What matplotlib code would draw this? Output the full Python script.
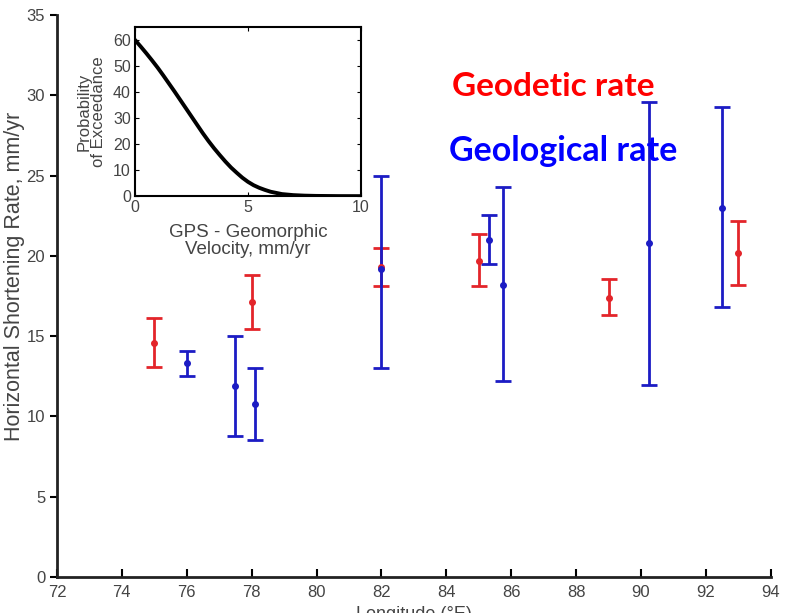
import matplotlib.pyplot as plt

plt.rcParams['font.family'] = ['Liberation Sans', 'DejaVu Sans']

# Geodetic (GPS) rates: longitude, rate, error bar ends
geo_lon = [75.0, 78.0, 82.0, 85.0, 89.0, 93.0]
geo_rate = [14.6, 17.1, 19.3, 19.7, 17.4, 20.2]
geo_low = [13.1, 15.45, 18.1, 18.1, 16.3, 18.2]
geo_high = [16.1, 18.8, 20.5, 21.35, 18.55, 22.2]

# Geological rates
gl_lon = [76.0, 77.5, 78.1, 82.0, 85.3, 85.75, 90.25, 92.5]
gl_rate = [13.3, 11.9, 10.8, 19.2, 21.0, 18.2, 20.8, 23.0]
gl_low = [12.55, 8.8, 8.55, 13.0, 19.5, 12.2, 11.95, 16.8]
gl_high = [14.1, 15.0, 13.0, 25.0, 22.55, 24.3, 29.6, 29.3]

# Inset: probability of exceedance vs GPS - geomorphic velocity
inset_x = [0, 0.25, 0.5, 0.75, 1, 1.25, 1.5, 1.75, 2, 2.25, 2.5, 2.75, 3, 3.25,
           3.5, 3.75, 4, 4.25, 4.5, 4.75, 5, 5.25, 5.5, 5.75, 6, 6.5, 7, 7.5,
           8, 9, 10]
inset_p = [60, 57.5, 54.9, 52.2, 49.4, 46.4, 43.3, 40.2, 37.0, 33.8, 30.6, 27.4,
           24.2, 21.2, 18.4, 15.8, 13.3, 11.0, 9.0, 7.1, 5.5, 4.2, 3.2, 2.4, 1.7,
           0.8, 0.4, 0.2, 0.1, 0.02, 0]

text_gray = '#444444'
red = '#e3252a'
blue = '#1c1cc4'

fig = plt.figure(figsize=(7.89, 6.13), dpi=100)
ax = fig.add_axes([0.0722, 0.0587, 0.9048, 0.9168])

ax.errorbar(geo_lon, geo_rate,
            yerr=[[r - l for r, l in zip(geo_rate, geo_low)],
                  [h - r for r, h in zip(geo_rate, geo_high)]],
            fmt='o', color=red, ms=4, lw=2, capsize=5.5, capthick=2)
ax.errorbar(gl_lon, gl_rate,
            yerr=[[r - l for r, l in zip(gl_rate, gl_low)],
                  [h - r for r, h in zip(gl_rate, gl_high)]],
            fmt='o', color=blue, ms=4, lw=2, capsize=5.5, capthick=2)

ax.set_xlim(72, 94)
ax.set_ylim(0, 35)
ax.set_xticks(range(72, 95, 2))
ax.set_yticks(range(0, 36, 5))
ax.spines['top'].set_visible(False)
ax.spines['right'].set_visible(False)
for s in ['left', 'bottom']:
    ax.spines[s].set_linewidth(2)
    ax.spines[s].set_color('#222222')
ax.tick_params(axis='x', direction='in', length=6, width=1.5, labelsize=12,
               labelcolor=text_gray, pad=6)
ax.tick_params(axis='y', direction='out', length=5, width=1.5, labelsize=12,
               labelcolor=text_gray)
ax.set_ylabel('Horizontal Shortening Rate, mm/yr', fontsize=15.5, color=text_gray)
ax.yaxis.set_label_coords(-0.045, 0.535)
ax.set_xlabel('Longitude (°E)', fontsize=13, color=text_gray, labelpad=4)

fig.text(452 / 789, 1 - 87 / 613, 'Geodetic rate', color='#ff0000', fontsize=24,
         fontweight='bold', family=['Lato', 'DejaVu Sans'], va='center', ha='left')
fig.text(449 / 789, 1 - 151 / 613, 'Geological rate', color='#0000ff', fontsize=24.5,
         fontweight='bold', family=['Lato', 'DejaVu Sans'], va='center', ha='left')

# inset
ins = fig.add_axes([0.1711, 0.680, 0.2864, 0.276])
ins.plot(inset_x, inset_p, color='black', lw=2.8, solid_joinstyle='round')
ins.set_xlim(0, 10)
ins.set_ylim(0, 65)
ins.set_xticks([0, 5, 10])
ins.set_yticks(range(0, 61, 10))
for s in ins.spines.values():
    s.set_linewidth(1.5)
ins.tick_params(direction='in', top=True, right=True, length=3, labelsize=11.5,
                labelcolor=text_gray, pad=3)
ins.set_ylabel('Probability\nof Exceedance', fontsize=12, color=text_gray,
               labelpad=5, linespacing=0.95)
ins.set_xlabel('GPS - Geomorphic\nVelocity, mm/yr', fontsize=13.5, color=text_gray,
               labelpad=6, linespacing=1.05)

fig.savefig('out.png', dpi=100)
